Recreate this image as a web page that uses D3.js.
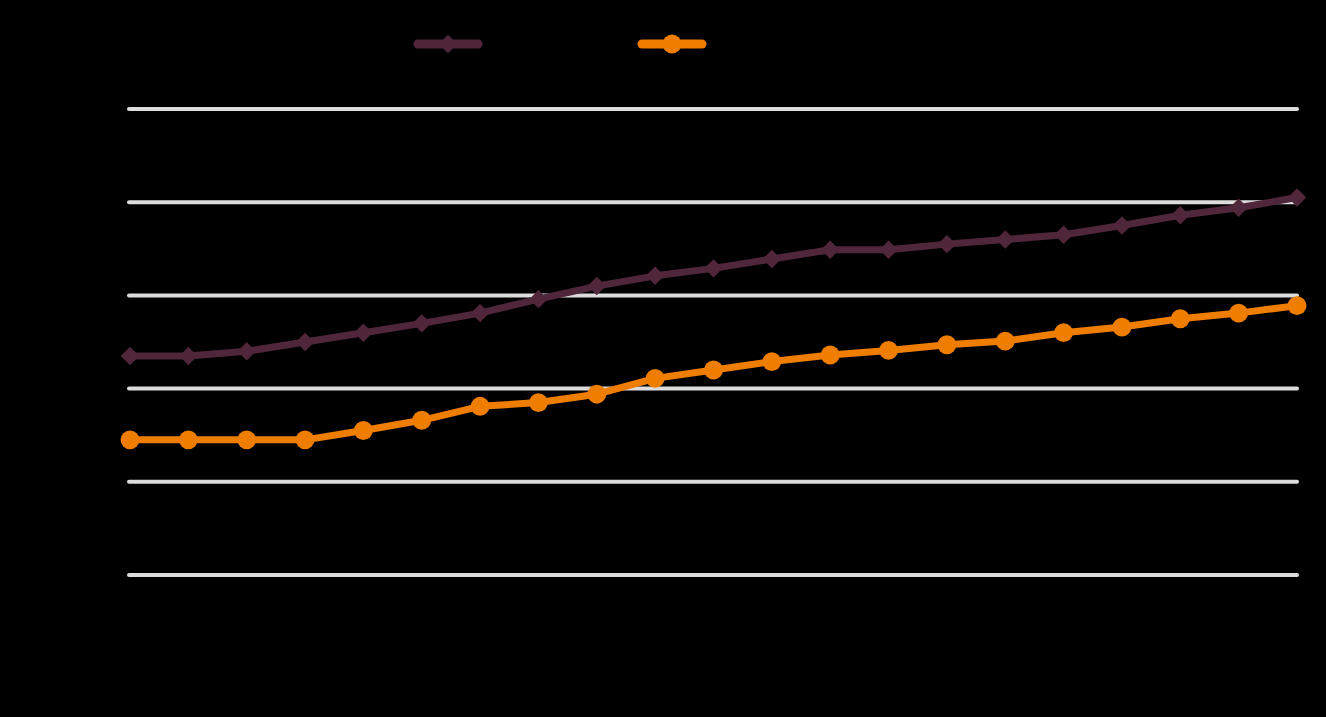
<!DOCTYPE html>
<html>
<head>
<meta charset="utf-8">
<script src="https://cdn.jsdelivr.net/npm/d3@7"></script>
<style>
  html, body { margin: 0; padding: 0; background: #000; }
  svg { display: block; }
</style>
</head>
<body>
<div id="chart"></div>
<script>
const categories = ["2000","2001","2002","2003","2004","2005","2006","2007","2008","2009","2010",
                    "2011","2012","2013","2014","2015","2016","2017","2018","2019","2020"];
const seriesNames = ["Series A", "Series B"];
const seriesA = [23.5, 23.5, 24.0, 25.0, 26.0, 27.0, 28.1, 29.6, 31.0, 32.1, 32.9,
                 33.9, 34.9, 34.9, 35.5, 36.0, 36.5, 37.5, 38.6, 39.4, 40.5];
const seriesB = [14.5, 14.5, 14.5, 14.5, 15.5, 16.6, 18.1, 18.5, 19.4, 21.1, 22.0,
                 22.9, 23.6, 24.1, 24.7, 25.1, 26.0, 26.6, 27.5, 28.1, 28.9];
const yTicks = [0, 10, 20, 30, 40, 50];

const W = 1326, H = 717;
const margin = { left: 130, right: 29, top: 109, bottom: 142 };
const colors = ["#50263a", "#ee7d00"];

const svg = d3.select("#chart").append("svg").attr("width", W).attr("height", H)
  .style("background", "#000");

const x = d3.scalePoint().domain(categories).range([margin.left, W - margin.right]);
const y = d3.scaleLinear().domain([0, 50]).range([H - margin.bottom, margin.top]);

// gridlines
svg.append("g").selectAll("line").data(yTicks).join("line")
  .attr("x1", margin.left - 1).attr("x2", W - margin.right)
  .attr("y1", d => y(d)).attr("y2", d => y(d))
  .attr("stroke", "#dcdcdc").attr("stroke-width", 4).attr("stroke-linecap", "round");

// axes (text in black, as in reference)
const yAxis = svg.append("g").attr("transform", `translate(${margin.left - 10},0)`)
  .call(d3.axisLeft(y).tickValues(yTicks).tickSize(0));
yAxis.select(".domain").remove();
yAxis.selectAll("text").attr("fill", "#000").style("font-family", "Liberation Sans").style("font-size", "18px");

const xAxis = svg.append("g").attr("transform", `translate(0,${H - margin.bottom + 14})`)
  .call(d3.axisBottom(x).tickSize(0));
xAxis.select(".domain").remove();
xAxis.selectAll("text").attr("fill", "#000").style("font-family", "Liberation Sans").style("font-size", "18px");

const line = d3.line().x((d, i) => x(categories[i])).y(d => y(d));
const data = [seriesA, seriesB];
const symbols = [d3.symbolSquare, d3.symbolCircle];
const symSizes = [170, 280];
const symRot = [45, 0];

data.forEach((vals, k) => {
  svg.append("path").datum(vals)
    .attr("d", line).attr("fill", "none")
    .attr("stroke", colors[k]).attr("stroke-width", 7)
    .attr("stroke-linejoin", "round");
  svg.append("g").selectAll("path").data(vals).join("path")
    .attr("transform", (d, i) => `translate(${x(categories[i])},${y(d)}) rotate(${symRot[k]})`)
    .attr("d", d3.symbol().type(symbols[k]).size(symSizes[k]))
    .attr("fill", colors[k]);
});

// legend
const legendX = [418, 642];
const legend = svg.append("g");
seriesNames.forEach((name, k) => {
  const g = legend.append("g").attr("transform", `translate(${legendX[k]},44)`);
  g.append("line").attr("x1", 0).attr("x2", 60).attr("y1", 0).attr("y2", 0)
    .attr("stroke", colors[k]).attr("stroke-width", 9).attr("stroke-linecap", "round");
  g.append("path").attr("transform", `translate(30,0) rotate(${symRot[k]})`)
    .attr("d", d3.symbol().type(symbols[k]).size(symSizes[k])).attr("fill", colors[k]);
  g.append("text").attr("x", 70).attr("y", 6).text(name)
    .attr("fill", "#000").style("font-family", "Liberation Sans").style("font-size", "18px");
});
</script>
</body>
</html>
